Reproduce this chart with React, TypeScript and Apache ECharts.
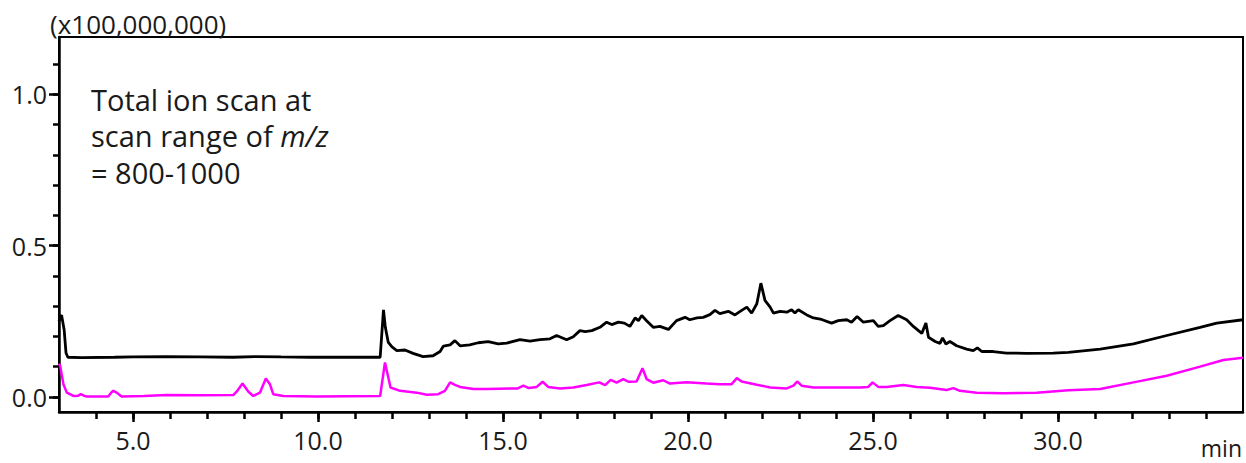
import React, { useEffect, useRef } from "react";
import * as echarts from "echarts";

const blackTimes = [
  3.0, 3.03, 3.07, 3.14, 3.19, 3.24, 3.6, 4.5, 5.0, 5.9, 6.8, 7.7, 8.3, 9.0, 9.8, 10.7, 11.68,
  11.72, 11.77, 11.82, 11.9, 12.0, 12.13, 12.35, 12.57, 12.84, 13.11, 13.3, 13.39, 13.57, 13.7,
  13.84, 14.1, 14.33, 14.6, 14.87, 15.1, 15.46, 15.73, 16.0, 16.27, 16.45, 16.72, 16.9, 17.08,
  17.22, 17.4, 17.62, 17.8, 17.94, 18.12, 18.28, 18.43, 18.57, 18.66, 18.75, 18.88, 19.06, 19.24,
  19.47, 19.69, 19.92, 20.05, 20.24, 20.41, 20.59, 20.73, 20.86, 21.09, 21.27, 21.45, 21.59,
  21.72, 21.86, 21.97, 22.08, 22.22, 22.31, 22.49, 22.67, 22.8, 22.89, 22.98, 23.21, 23.39,
  23.61, 23.88, 24.06, 24.29, 24.42, 24.57, 24.74, 25.01, 25.14, 25.28, 25.46, 25.68, 25.91,
  26.09, 26.32, 26.43, 26.5, 26.68, 26.81, 26.88, 26.97, 27.08, 27.26, 27.53, 27.71, 27.82,
  27.94, 28.25, 28.61, 29.15, 29.87, 30.28, 31.14, 32.04, 32.94, 33.84, 34.29, 35.0,
];
const blackValues = [
  0.25, 0.264, 0.27, 0.221, 0.145, 0.131, 0.13, 0.131, 0.132, 0.133, 0.132, 0.131, 0.133, 0.132,
  0.131, 0.131, 0.131, 0.2, 0.288, 0.23, 0.18, 0.165, 0.153, 0.155, 0.144, 0.133, 0.136, 0.15,
  0.168, 0.172, 0.186, 0.169, 0.172, 0.179, 0.183, 0.175, 0.178, 0.189, 0.184, 0.189, 0.192,
  0.203, 0.189, 0.199, 0.219, 0.216, 0.219, 0.23, 0.247, 0.239, 0.247, 0.244, 0.233, 0.261,
  0.252, 0.269, 0.252, 0.23, 0.233, 0.223, 0.252, 0.263, 0.255, 0.261, 0.263, 0.272, 0.286,
  0.275, 0.283, 0.271, 0.286, 0.297, 0.277, 0.308, 0.376, 0.319, 0.297, 0.277, 0.283, 0.28,
  0.288, 0.277, 0.288, 0.271, 0.261, 0.256, 0.244, 0.252, 0.255, 0.247, 0.266, 0.247, 0.252,
  0.233, 0.236, 0.252, 0.269, 0.255, 0.233, 0.21, 0.244, 0.197, 0.183, 0.177, 0.195, 0.175,
  0.183, 0.169, 0.158, 0.153, 0.162, 0.15, 0.15, 0.145, 0.144, 0.145, 0.147, 0.158, 0.175,
  0.203, 0.23, 0.244, 0.255,
];

const magentaTimes = [
  3.0, 3.03, 3.12, 3.21, 3.39, 3.52, 3.59, 3.67, 3.75, 4.33, 4.42, 4.47, 4.56, 4.69, 5.3, 5.91,
  6.8, 7.71, 7.8, 7.96, 8.12, 8.25, 8.43, 8.59, 8.7, 8.79, 9.06, 9.96, 10.8, 11.68, 11.81, 11.96,
  12.22, 12.67, 12.94, 13.25, 13.43, 13.57, 13.7, 13.84, 14.2, 14.56, 15.19, 15.4, 15.55, 15.7,
  15.91, 16.07, 16.22, 16.54, 16.9, 17.26, 17.6, 17.76, 17.91, 18.07, 18.25, 18.39, 18.61, 18.77,
  18.88, 19.06, 19.33, 19.51, 19.96, 20.5, 20.86, 21.18, 21.32, 21.45, 21.86, 22.22, 22.67,
  22.85, 22.95, 23.07, 23.39, 23.93, 24.65, 24.87, 24.99, 25.14, 25.37, 25.82, 26.18, 26.54,
  26.99, 27.17, 27.35, 27.8, 28.52, 29.42, 30.28, 31.14, 32.04, 32.94, 33.84, 34.47, 35.0,
];
const magentaValues = [
  0.11, 0.103, 0.042, 0.014, 0.003, 0.004, 0.009, 0.004, 0.001, 0.001, 0.015, 0.02, 0.014,
  0.001, 0.003, 0.006, 0.005, 0.006, 0.017, 0.044, 0.017, 0.003, 0.014, 0.061, 0.042, 0.009,
  0.003, 0.001, 0.002, 0.003, 0.114, 0.031, 0.02, 0.014, 0.007, 0.009, 0.02, 0.048, 0.04, 0.033,
  0.026, 0.026, 0.028, 0.028, 0.037, 0.029, 0.033, 0.05, 0.033, 0.028, 0.031, 0.039, 0.048,
  0.039, 0.056, 0.047, 0.059, 0.05, 0.051, 0.095, 0.059, 0.047, 0.055, 0.044, 0.048, 0.044,
  0.042, 0.042, 0.062, 0.051, 0.04, 0.031, 0.028, 0.037, 0.051, 0.037, 0.031, 0.031, 0.031,
  0.033, 0.048, 0.033, 0.033, 0.039, 0.033, 0.03, 0.023, 0.029, 0.02, 0.014, 0.012, 0.014,
  0.022, 0.026, 0.048, 0.07, 0.1, 0.122, 0.129,
];

const xLabelTicks = [5, 10, 15, 20, 25, 30];
const xAllTicks = [4, 5, 6, 7, 8, 9, 10, 11, 12, 13, 14, 15, 16, 17, 18, 19, 20, 21, 22, 23, 24, 25, 26, 27, 28, 29, 30, 31, 32, 33, 34];
const yLabelTicks = [0, 0.5, 1.0];
const yAllTicks = [0, 0.1, 0.2, 0.3, 0.4, 0.5, 0.6, 0.7, 0.8, 0.9, 1.0, 1.1];

const textLines = ["Total ion scan at", "scan range of {i|m/z}", "= 800-1000"];
const headerText = "(x100,000,000)";
const unitText = "min";

const FONT = "'Open Sans', 'Noto Sans', sans-serif";
const INK = "#1a1a1a";

export default function App() {
  const ref = useRef<HTMLDivElement>(null);
  useEffect(() => {
    if (!ref.current) return;
    const chart = echarts.init(ref.current, null, { renderer: "svg" });
    const black = blackTimes.map((t, i) => [t, blackValues[i]]);
    const magenta = magentaTimes.map((t, i) => [t, magentaValues[i]]);
    const lineColor = "#000";
    const textGraphics = textLines.map((line, i) => ({
      type: "text",
      x: 91,
      y: 99 + i * 36.5,
      style: {
        text: line,
        fontSize: 29,
        fontFamily: FONT,
        fill: INK,
        verticalAlign: "middle",
        align: "left",
        rich: {
          i: { fontStyle: "italic", fontSize: 29, fontFamily: FONT, fill: INK },
        },
      },
    }));
    chart.setOption({
      animation: false,
      backgroundColor: "#fff",
      grid: {
        left: 59,
        right: 3,
        top: 37,
        bottom: 51,
        show: true,
        borderColor: lineColor,
        borderWidth: 2,
        containLabel: false,
      },
      xAxis: [
        {
          type: "value",
          min: 3,
          max: 35,
          position: "bottom",
          axisLine: { show: true, onZero: false, lineStyle: { color: lineColor, width: 2.5 } },
          axisTick: { show: true, customValues: xAllTicks, length: 7, lineStyle: { color: lineColor, width: 2.5 } },
          axisLabel: {
            customValues: xLabelTicks,
            formatter: (v: number) => v.toFixed(1),
            fontSize: 25,
            color: INK,
            fontFamily: FONT,
            margin: 15,
          },
          splitLine: { show: false },
        },
        {
          type: "value",
          min: 3,
          max: 35,
          position: "bottom",
          axisLine: { show: false, onZero: false },
          axisTick: { show: true, customValues: xLabelTicks, length: 10, lineStyle: { color: lineColor, width: 2.5 } },
          axisLabel: { show: false },
          splitLine: { show: false },
        },
      ],
      yAxis: [
        {
          type: "value",
          min: -0.05,
          max: 1.19,
          position: "left",
          axisLine: { show: true, onZero: false, lineStyle: { color: lineColor, width: 2.5 } },
          axisTick: { show: true, customValues: yAllTicks, length: 6, lineStyle: { color: lineColor, width: 2.5 } },
          axisLabel: {
            customValues: yLabelTicks,
            formatter: (v: number) => v.toFixed(1),
            fontSize: 25,
            color: INK,
            fontFamily: FONT,
            margin: 12,
          },
          splitLine: { show: false },
        },
        {
          type: "value",
          min: -0.05,
          max: 1.19,
          position: "left",
          axisLine: { show: false, onZero: false },
          axisTick: { show: true, customValues: yLabelTicks, length: 10, lineStyle: { color: lineColor, width: 2.5 } },
          axisLabel: { show: false },
          splitLine: { show: false },
        },
      ],
      graphic: [
        {
          type: "text",
          x: 50,
          y: 24,
          style: {
            text: headerText,
            fontSize: 26,
            fontFamily: FONT,
            fill: INK,
            verticalAlign: "middle",
            align: "left",
          },
          z: 10,
        },
        {
          type: "text",
          x: 1242,
          y: 448,
          style: {
            text: unitText,
            fontSize: 23,
            fontFamily: FONT,
            fill: INK,
            verticalAlign: "middle",
            align: "right",
          },
        },
        ...textGraphics,
      ],
      series: [
        {
          type: "line",
          xAxisIndex: 0,
          yAxisIndex: 0,
          data: magenta,
          showSymbol: false,
          lineStyle: { color: "#ff00ff", width: 2.5 },
          itemStyle: { color: "#ff00ff" },
        },
        {
          type: "line",
          xAxisIndex: 0,
          yAxisIndex: 0,
          data: black,
          showSymbol: false,
          lineStyle: { color: "#000", width: 2.8 },
          itemStyle: { color: "#000" },
        },
      ],
    });
    return () => chart.dispose();
  }, []);
  return <div ref={ref} style={{ position: "fixed", left: 0, top: 0, width: 1246, height: 463 }} />;
}
